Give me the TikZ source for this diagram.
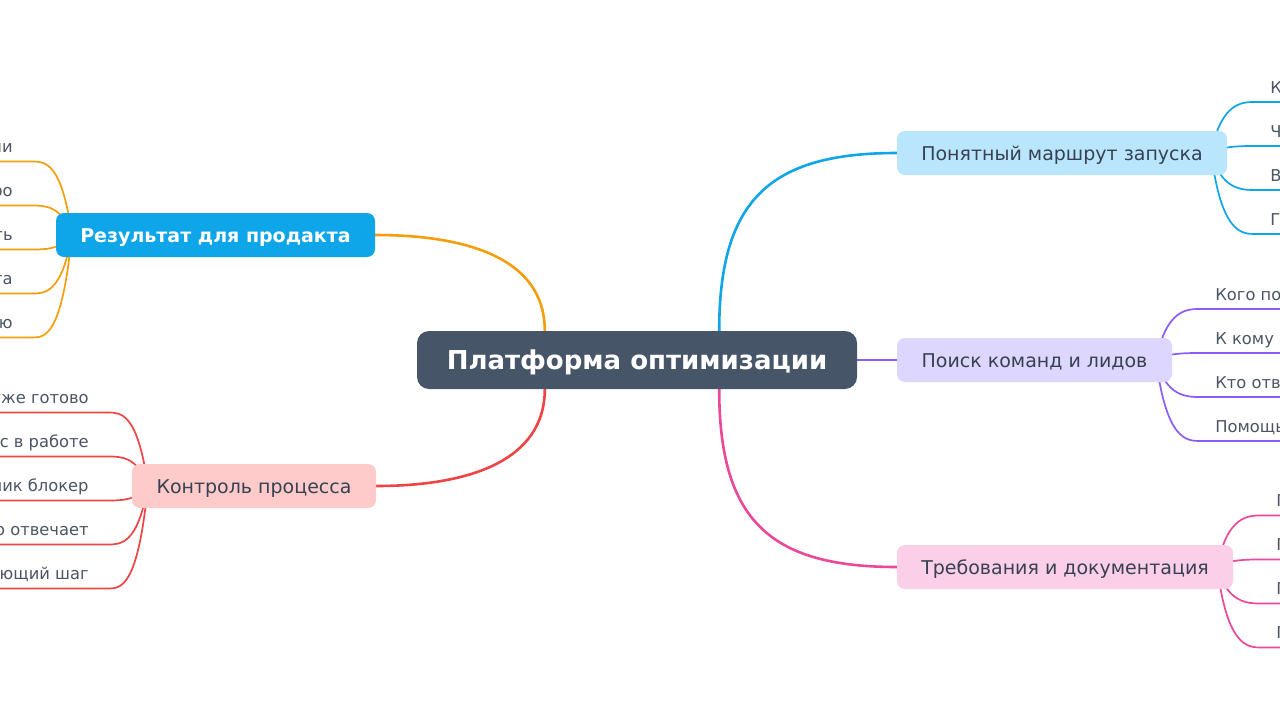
\documentclass[tikz,border=0pt]{standalone}
\usepackage{fontspec}
\setmainfont{DejaVu Sans}
\usetikzlibrary{calc,backgrounds}
\definecolor{cSlate}{HTML}{475569}
\definecolor{cText}{HTML}{374151}
\definecolor{cLeaf}{HTML}{4B5563}
\definecolor{cOrange}{HTML}{F59E0B}
\definecolor{cRed}{HTML}{EF4444}
\definecolor{cBlue}{HTML}{0EA5E9}
\definecolor{cViolet}{HTML}{8B5CF6}
\definecolor{cPink}{HTML}{EC4899}
\definecolor{fBlue}{HTML}{BAE6FD}
\definecolor{fViolet}{HTML}{DDD6FE}
\definecolor{fPink}{HTML}{FBCFE8}
\definecolor{fRed}{HTML}{FECACA}
\definecolor{fSky}{HTML}{0EA5E9}
\tikzset{
  central/.style={fill=cSlate, rounded corners=12pt, minimum width=440pt, minimum height=58pt,
    inner sep=0pt, text height=22pt, text depth=3pt, text=white, font=\fontsize{26}{31}\selectfont\bfseries},
  branch/.style={rounded corners=8pt, minimum height=44pt, inner sep=0pt, text height=17pt, text depth=3pt,
    font=\fontsize{19}{23}\selectfont, text=cText},
  leafL/.style={anchor=base east, inner sep=0pt, text=cLeaf, font=\fontsize{16.3}{19}\selectfont},
  leafR/.style={anchor=base west, inner sep=0pt, text=cLeaf, font=\fontsize{16.3}{19}\selectfont},
  conn/.style={line width=2.6pt, line cap=round},
  leafline/.style={line width=1.7pt, line cap=round},
}
\begin{document}
\begin{tikzpicture}[x=1pt,y=-1pt]
\useasboundingbox (0,0) rectangle (1280,720);
\clip (0,0) rectangle (1280,720);
\begin{scope}[on background layer]
\fill[white] (0,0) rectangle (1280,720);
\end{scope}

% main nodes
\node[central] (c) at (637,360) {Платформа оптимизации};
\node[branch, fill=fSky, text=white, font=\fontsize{19}{23}\selectfont\bfseries, minimum width=319pt] (bo) at (215.5,235) {Результат для продакта};
\node[branch, fill=fRed, minimum width=244pt] (br) at (254,486) {Контроль процесса};
\node[branch, fill=fBlue, minimum width=330pt] (bb) at (1062,153) {Понятный маршрут запуска};
\node[branch, fill=fViolet, minimum width=275pt] (bv) at (1034.5,360) {Поиск команд и лидов};
\node[branch, fill=fPink, minimum width=336pt] (bp) at (1065,567) {Требования и документация};

% leaves: orange
\foreach \t [count=\i] in {ии,ро,ть,та,ю}{
  \pgfmathsetmacro\dy{161.5+44*(\i-1)-235}
  \coordinate (oL\i) at ($(bo.west)+(-24,\dy)$);
  \node[leafL] (ot\i) at ($(oL\i)+(-19,-9)$) {\t};
  \begin{scope}[on background layer]
  \draw[leafline,cOrange] ($(bo.west)+(16,0)$) .. controls +(-10,\dy) and +(13,0) .. (oL\i) -- (ot\i.west |- oL\i) -- ++(-16,0);
  \end{scope}
}
% leaves: red
\foreach \t [count=\i] in {уже готово,с в работе,ник блокер,о отвечает,ющий шаг}{
  \pgfmathsetmacro\dy{412.5+44*(\i-1)-486}
  \coordinate (rL\i) at ($(br.west)+(-24,\dy)$);
  \node[leafL] (rt\i) at ($(rL\i)+(-19,-9)$) {\t};
  \begin{scope}[on background layer]
  \draw[leafline,cRed] ($(br.west)+(16,0)$) .. controls +(-10,\dy) and +(13,0) .. (rL\i) -- (rt\i.west |- rL\i) -- ++(-16,0);
  \end{scope}
}
% leaves: blue
\foreach \t [count=\i] in {К,Ч,В,Г}{
  \pgfmathsetmacro\dy{102+44*(\i-1)-153}
  \coordinate (bL\i) at ($(bb.east)+(28,\dy)$);
  \node[leafR] (bt\i) at ($(bL\i)+(15,-9)$) {\t};
  \begin{scope}[on background layer]
  \draw[leafline,cBlue] ($(bb.east)+(-16,0)$) .. controls +(10,\dy) and +(-13,0) .. (bL\i) -- ++(80,0);
  \end{scope}
}
% leaves: violet
\foreach \t [count=\i] in {Кого по,К кому п,Кто отв,Помощь}{
  \pgfmathsetmacro\dy{309+44*(\i-1)-360}
  \coordinate (vL\i) at ($(bv.east)+(28,\dy)$);
  \node[leafR] (vt\i) at ($(vL\i)+(15,-9)$) {\t};
  \begin{scope}[on background layer]
  \draw[leafline,cViolet] ($(bv.east)+(-16,0)$) .. controls +(10,\dy) and +(-13,0) .. (vL\i) -- ++(120,0);
  \end{scope}
}
% leaves: pink
\foreach \t [count=\i] in {П,П,П,П}{
  \pgfmathsetmacro\dy{515.5+44*(\i-1)-567}
  \coordinate (pL\i) at ($(bp.east)+(28,\dy)$);
  \node[leafR] (pt\i) at ($(pL\i)+(15,-9)$) {\t};
  \begin{scope}[on background layer]
  \draw[leafline,cPink] ($(bp.east)+(-16,0)$) .. controls +(10,\dy) and +(-13,0) .. (pL\i) -- ++(80,0);
  \end{scope}
}

% central connectors
\begin{scope}[on background layer]
\draw[conn,cOrange] ($(c.north west)+(128,0)$) .. controls +(0,-71) and +(95,0) .. (bo.east);
\draw[conn,cRed] ($(c.south west)+(128,0)$) .. controls +(0,71) and +(94,0) .. (br.east);
\draw[conn,cBlue] ($(c.north east)+(-138,0)$) .. controls +(0,-131) and +(-127,0) .. (bb.west);
\draw[conn,cPink] ($(c.south east)+(-138,0)$) .. controls +(0,131) and +(-127,0) .. (bp.west);
\draw[conn,cViolet] (c.east) -- (bv.west);
\end{scope}
\end{tikzpicture}
\end{document}
